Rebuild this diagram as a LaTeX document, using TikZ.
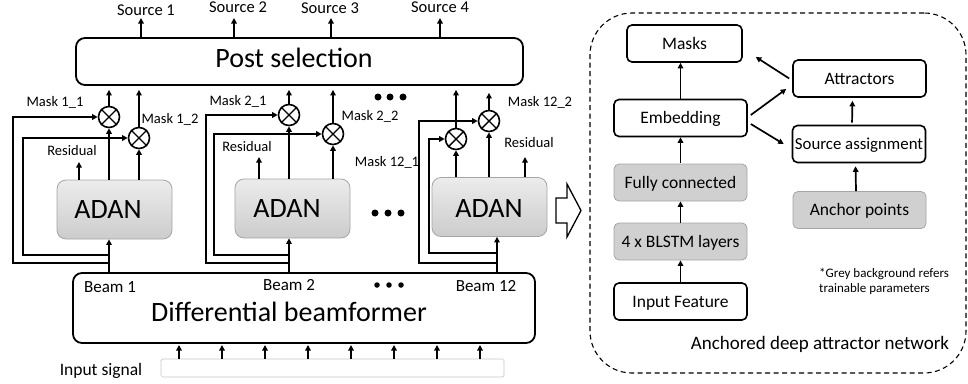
\documentclass[tikz,border=0pt]{standalone}
\usepackage{fontspec}
\setmainfont{Carlito}
\usetikzlibrary{arrows.meta}
\definecolor{gfill}{RGB}{208,208,208}
\definecolor{gedge}{RGB}{165,165,165}
\begin{document}
\begin{tikzpicture}[x=1pt,y=-1pt,
  arr/.style={-{Triangle[length=5.5pt,width=5.5pt]},line width=1.7pt},
  ln/.style={line width=1.7pt},
  bigbox/.style={draw,line width=1.8pt,rounded corners=9pt},
  adanbox/.style={draw=gedge,line width=0.8pt,rounded corners=9pt,top color=gray!15,bottom color=gray!40,minimum width=115pt,minimum height=59pt},
  mult/.style={circle,draw,line width=1.6pt,minimum size=21pt,inner sep=0pt},
  wbox/.style={draw,line width=1.6pt,rounded corners=5pt,minimum width=133pt,minimum height=37pt,text height=11pt,text depth=0pt,font=\fontsize{17.5}{20}\selectfont},
  gbox/.style={draw=gedge,line width=0.8pt,rounded corners=5pt,fill=gfill,minimum width=133pt,minimum height=37pt,text height=11pt,text depth=0pt,font=\fontsize{17.5}{20}\selectfont},
  big/.style={font=\fontsize{28}{30}\selectfont,anchor=base,inner sep=0pt},
  med/.style={font=\fontsize{17}{19}\selectfont,anchor=base,inner sep=0pt},
  sml/.style={font=\fontsize{14.5}{16}\selectfont,anchor=base,inner sep=0pt},
  dotm/.style={circle,fill,inner sep=0pt,minimum size=7pt},
  dots/.style={circle,fill,inner sep=0pt,minimum size=5.5pt}
]
\useasboundingbox (0,0) rectangle (968,383);

% ---------- big boxes ----------
\node[bigbox,minimum width=447pt,minimum height=47pt] (post) at (299.5,61.5) {};
\node[big] (posttxt) at (294,67) {Post selection};
\node[bigbox,minimum width=462pt,minimum height=70pt] (dbf) at (304,308) {};
\node[big] (dbftxt) at (289,321) {Differential beamformer};
\node[draw=gray!45,line width=0.7pt,rounded corners=1.5pt,minimum width=343pt,minimum height=18pt,inner sep=0pt] (bar) at (332.5,368) {};
\node[med,font=\fontsize{17.5}{19}\selectfont] (insig) at (101,375) {Input signal};

% beam labels
\node[med] (b1) at (110,292) {Beam 1};
\node[med] (b2) at (289,290) {Beam 2};
\node[med] (b12) at (486,291) {Beam 12};
\node[dots] (bd1) at (377,285) {};
\node[dots] (bd2) at (389,285) {};
\node[dots] (bd3) at (401,285) {};

% input arrows
\foreach \x [count=\i] in {179,222,265,308,351,394,437,480}{
  \coordinate (ia\i) at (\x,345);
  \draw[arr] (bar.north -| ia\i) -- (ia\i);
}

% sources
\node[med,font=\fontsize{16.5}{18}\selectfont] (s1) at (146,15) {Source 1};
\node[med,font=\fontsize{16.5}{18}\selectfont] (s2) at (238,12.7) {Source 2};
\node[med,font=\fontsize{16.5}{18}\selectfont] (s3) at (330,13.3) {Source 3};
\node[med,font=\fontsize{16.5}{18}\selectfont] (s4) at (440,12) {Source 4};
\foreach \x [count=\i] in {141,234,331,440}{
  \coordinate (sa\i) at (\x,18);
  \draw[arr] (post.north -| sa\i) -- (sa\i);
}

% ---------- ADAN blocks ----------
\node[adanbox] (ad1) at (114.5,209.5) {};
\node[adanbox] (ad2) at (292.5,208.5) {};
\node[adanbox] (ad12) at (489.5,207) {};
\node[big] (ad1t) at (108,218) {ADAN};
\node[big] (ad2t) at (287,217) {ADAN};
\node[big] (ad12t) at (489,217) {ADAN};

% multipliers
\node[mult] (c11) at (109,117) {};
\node[mult] (c12) at (139,138) {};
\node[mult] (c21) at (289,115) {};
\node[mult] (c22) at (333,134) {};
\node[mult] (c121) at (456,139) {};
\node[mult] (c122) at (489,121) {};
\foreach \c in {c11,c12,c21,c22,c121,c122}{
  \draw[line width=1.4pt] (\c.north east) -- (\c.south west) (\c.north west) -- (\c.south east);
}

% labels
\node[sml] (m11) at (55,106) {Mask 1\_1};
\node[sml] (m12) at (170,123) {Mask 1\_2};
\node[sml] (r1) at (72,155) {Residual};
\node[sml] (m21) at (238,105) {Mask 2\_1};
\node[sml] (m22) at (370,120) {Mask 2\_2};
\node[sml] (r2) at (247,151) {Residual};
\node[sml] (m121) at (387,166) {Mask 12\_1};
\node[sml] (m122) at (540,106) {Mask 12\_2};
\node[sml] (r12) at (529,147) {Residual};

% dots
\node[dotm] (td1) at (378,97) {};
\node[dotm] (td2) at (390,97) {};
\node[dotm] (td3) at (403,97) {};
\node[dotm] (md1) at (375,213) {};
\node[dotm] (md2) at (388,213) {};
\node[dotm] (md3) at (401,213) {};

% coordinates for feedback
\coordinate (i1) at (109,0);
\coordinate (i2) at (289,0);
\coordinate (i12) at (497,0);

% ADAN 1 wiring
\draw[arr] (dbf.north -| i1) -- (ad1.south -| i1);
\draw[arr] (109,263) -| (13,117) -- (c11.west);
\draw[arr] (109,255) -| (23,138) -- (c12.west);
\draw[arr] (ad1.north -| c11) -- (c11.south);
\draw[arr] (ad1.north -| c12) -- (c12.south);
\coordinate (rs1) at (79,162);
\draw[arr] (ad1.north -| rs1) -- (rs1);
\draw[arr,shorten >=4pt] (c11.north) -- (post.south -| c11);
\draw[arr,shorten >=4pt] (c12.north) -- (post.south -| c12);

% ADAN 2 wiring
\draw[arr] (dbf.north -| i2) -- (ad2.south -| i2);
\draw[arr] (289,263) -| (206,115) -- (c21.west);
\draw[arr] (289,255) -| (214,134) -- (c22.west);
\draw[arr] (ad2.north -| c21) -- (c21.south);
\draw[arr] (ad2.north -| c22) -- (c22.south);
\coordinate (rs2) at (259,157);
\draw[arr] (ad2.north -| rs2) -- (rs2);
\draw[arr,shorten >=4pt] (c21.north) -- (post.south -| c21);
\draw[arr,shorten >=4pt] (c22.north) -- (post.south -| c22);

% ADAN 12 wiring
\draw[arr] (dbf.north -| i12) -- (ad12.south -| i12);
\draw[arr] (497,263) -| (419,121) -- (c122.west);
\draw[arr] (497,253) -| (429,139) -- (c121.west);
\draw[arr] (ad12.north -| c121) -- (c121.south);
\draw[arr] (ad12.north -| c122) -- (c122.south);
\coordinate (rs12) at (525,157);
\draw[arr] (ad12.north -| rs12) -- (rs12);
\draw[arr,shorten >=4pt] (c121.north) -- (post.south -| c121);
\draw[arr,shorten >=7pt] (c122.north) -- (post.south -| c122);

% hollow arrow
\draw[line width=1.3pt,fill=white] (556,198) -- (567,198) -- (567,184) -- (581,210.5) -- (567,237) -- (567,223) -- (556,223) -- cycle;

% ---------- right panel ----------
\node[draw,dashed,dash pattern=on 5pt off 3.5pt,line width=1.1pt,rounded corners=42pt,minimum width=376pt,minimum height=360pt] (frame) at (778,193) {};

\node[wbox,minimum width=115pt] (masks) at (684.5,43.5) {Masks};
\node[wbox] (attr) at (859.5,78.5) {Attractors};
\node[wbox] (emb) at (680.5,118) {Embedding};
\node[wbox,font=\fontsize{16.8}{19}\selectfont,inner sep=1pt] (src) at (859,144) {Source assignment};
\node[gbox] (fc) at (680.5,182.5) {Fully connected};
\node[gbox] (anc) at (859.5,210) {Anchor points};
\node[gbox] (blstm) at (680.5,241.5) {4 x BLSTM layers};
\node[wbox] (inf) at (680.5,301.5) {Input Feature};

\draw[arr] (inf.north) -- (blstm.south);
\draw[arr] (blstm.north) -- (fc.south);
\draw[arr,shorten <=1pt] (fc.north) -- (emb.south);
\draw[arr] (emb.north) -- (emb.north |- masks.south);
\draw[arr] ([xshift=3pt,yshift=3pt]emb.east) -- ([xshift=-6pt,yshift=-10.5pt]attr.west);
\draw[arr] ([xshift=3pt,yshift=-6pt]emb.east) -- ([xshift=-8pt]src.west);
\draw[arr] ([xshift=-3pt]attr.west) -- ([xshift=13pt,yshift=-13.5pt]masks.east);
\draw[arr,shorten <=2pt,shorten >=3pt] ([xshift=-7pt]src.north) -- ([xshift=-7pt]attr.south);
\draw[arr,shorten >=3pt] ([xshift=-3.5pt]anc.north) -- ([xshift=-3.5pt]src.south);

\node[anchor=base west,align=left,inner sep=0pt,font=\fontsize{13}{15}\selectfont] (note) at (819,292) {*Grey background refers\\trainable parameters};
\node[anchor=base,inner sep=0pt,font=\fontsize{19}{21}\selectfont] (title) at (820,349) {Anchored deep attractor network};
\end{tikzpicture}
\end{document}
